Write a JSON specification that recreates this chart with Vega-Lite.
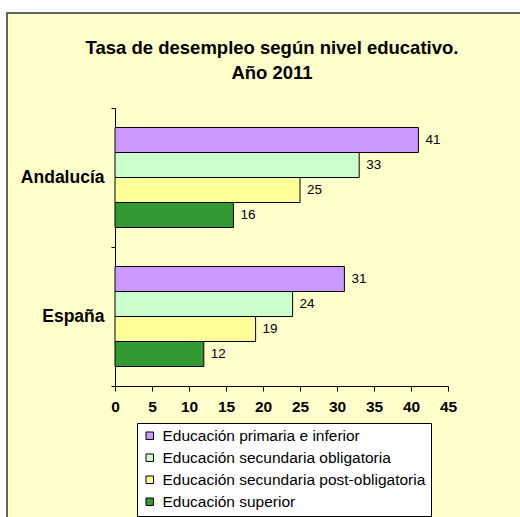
{
  "$schema": "https://vega.github.io/schema/vega-lite/v6.json",
  "autosize": {"type": "none"},
  "padding": {"left": 7, "top": 13, "right": 0, "bottom": 0},
  "width": 514,
  "height": 505,
  "background": "white",
  "config": {
    "font": "Liberation Sans",
    "view": {"fill": "#FFFFCC", "stroke": "#333333", "strokeWidth": 1.5}
  },
  "title": {
    "text": ["Tasa de desempleo según nivel educativo.", "Año 2011"],
    "fontSize": 18.5,
    "fontWeight": "bold",
    "color": "black",
    "anchor": "middle",
    "frame": "group",
    "baseline": "top",
    "offset": -78,
    "lineHeight": 24.5,
    "dx": 8
  },
  "data": {
    "values": [
      {"region": "Andalucía", "nivel": "Educación primaria e inferior", "tasa": 41},
      {"region": "Andalucía", "nivel": "Educación secundaria obligatoria", "tasa": 33},
      {"region": "Andalucía", "nivel": "Educación secundaria post-obligatoria", "tasa": 25},
      {"region": "Andalucía", "nivel": "Educación superior", "tasa": 16},
      {"region": "España", "nivel": "Educación primaria e inferior", "tasa": 31},
      {"region": "España", "nivel": "Educación secundaria obligatoria", "tasa": 24},
      {"region": "España", "nivel": "Educación secundaria post-obligatoria", "tasa": 19},
      {"region": "España", "nivel": "Educación superior", "tasa": 12}
    ]
  },
  "encoding": {
    "y": {
      "field": "region",
      "type": "nominal",
      "sort": ["Andalucía", "España"],
      "scale": {"range": [95, 373], "paddingInner": 0, "paddingOuter": 0},
      "axis": {
        "title": null,
        "offset": -108,
        "tickBand": "extent",
        "tickSize": 4,
        "tickColor": "black",
        "domainColor": "black",
        "labelFontSize": 17.5,
        "labelFontWeight": "bold",
        "labelColor": "black",
        "labelPadding": 7
      }
    },
    "yOffset": {
      "field": "nivel",
      "type": "nominal",
      "sort": [
        "Educación primaria e inferior",
        "Educación secundaria obligatoria",
        "Educación secundaria post-obligatoria",
        "Educación superior"
      ],
      "scale": {"paddingInner": 0, "paddingOuter": 0.78}
    },
    "x": {
      "field": "tasa",
      "type": "quantitative",
      "scale": {"domain": [0, 45], "range": [108, 441], "nice": false},
      "axis": {
        "title": null,
        "grid": false,
        "values": [0, 5, 10, 15, 20, 25, 30, 35, 40, 45],
        "offset": -132,
        "tickSize": 5,
        "tickColor": "black",
        "domainColor": "black",
        "labelFontSize": 15.5,
        "labelFontWeight": "bold",
        "labelColor": "black",
        "labelPadding": 8,
        "labelFlush": false
      }
    }
  },
  "layer": [
    {
      "mark": {"type": "bar", "stroke": "black", "strokeWidth": 1},
      "encoding": {
        "color": {
          "field": "nivel",
          "type": "nominal",
          "scale": {
            "domain": [
              "Educación primaria e inferior",
              "Educación secundaria obligatoria",
              "Educación secundaria post-obligatoria",
              "Educación superior"
            ],
            "range": ["#CC99FF", "#CCFFCC", "#FFFF99", "#339933"]
          },
          "legend": {
            "orient": "none",
            "legendX": 130,
            "legendY": 410,
            "title": null,
            "direction": "vertical",
            "fillColor": "white",
            "strokeColor": "black",
            "padding": 5,
            "symbolType": "square",
            "symbolSize": 56,
            "symbolStrokeColor": "black",
            "symbolStrokeWidth": 1,
            "labelFontSize": 15.5,
            "labelColor": "black",
            "labelOffset": 5,
            "labelLimit": 400,
            "rowPadding": 5
          }
        }
      }
    },
    {
      "mark": {"type": "text", "align": "left", "baseline": "middle", "dx": 7, "fontSize": 13.5, "color": "black"},
      "encoding": {"text": {"field": "tasa", "type": "quantitative"}}
    }
  ]
}
